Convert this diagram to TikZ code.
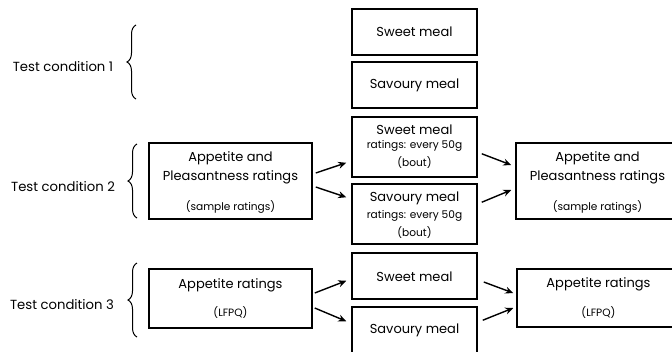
\documentclass[tikz,border=0pt]{standalone}
\usepackage{fontspec}
\setmainfont{Poppins}
\usetikzlibrary{arrows.meta,decorations.pathreplacing}
\tikzset{
  box/.style={draw, line width=1.5pt, inner sep=0pt},
  lbl/.style={inner sep=0pt, font=\fontsize{13}{15}\selectfont},
  sml/.style={inner sep=0pt, font=\fontsize{10.6}{12}\selectfont},
  cond/.style={inner sep=0pt, font=\fontsize{13.2}{15}\selectfont},
  arr/.style={line width=1.4pt, -{Stealth[length=8pt,width=7pt]}},
  brc/.style={line width=1pt, decorate, decoration={brace, amplitude=9pt}},
}
\begin{document}
\begin{tikzpicture}[x=1pt,y=-1pt]
\useasboundingbox (0,0) rectangle (672,351);
\clip (0,0) rectangle (672,351);
% condition labels and braces
\node[cond] (t1) at (63,67) {Test condition 1};
\node[cond] (t2) at (63,187) {Test condition 2};
\node[cond] (t3) at (62,305) {Test condition 3};
\draw[brc] (136,99) -- (136,25);
\draw[brc] (137,218) -- (137,144);
\draw[brc] (137,337) -- (137,263);
% condition 1
\node[box, minimum width=125pt, minimum height=46pt] (s1) at (414.5,32) {};
\node[lbl] (s1t) at (s1.center) {Sweet meal};
\node[box, minimum width=125pt, minimum height=46pt] (v1) at (414.5,85) {};
\node[lbl] (v1t) at (v1.center) {Savoury meal};
% condition 2
\node[box, minimum width=163pt, minimum height=76pt] (a2) at (230.5,181) {};
\node[lbl] (a2a) at (230.5,158) {Appetite and};
\node[lbl] (a2b) at (230.5,177) {Pleasantness ratings};
\node[sml] (a2c) at (230.5,207) {(sample ratings)};
\node[box, minimum width=125pt, minimum height=60pt] (s2) at (414.5,147) {};
\node[lbl] (s2a) at (414.5,130) {Sweet meal};
\node[sml] (s2b) at (414.5,146) {ratings: every 50g};
\node[sml] (s2c) at (414.5,163) {(bout)};
\node[box, minimum width=125pt, minimum height=60pt] (v2) at (414.5,214) {};
\node[lbl] (v2a) at (414.5,198) {Savoury meal};
\node[sml] (v2b) at (414.5,216) {ratings: every 50g};
\node[sml] (v2c) at (414.5,233) {(bout)};
\node[box, minimum width=163pt, minimum height=76pt] (b2) at (597.5,181) {};
\node[lbl] (b2a) at (597.5,158) {Appetite and};
\node[lbl] (b2b) at (597.5,177) {Pleasantness ratings};
\node[sml] (b2c) at (597.5,207) {(sample ratings)};
% condition 3
\node[box, minimum width=163pt, minimum height=59pt] (a3) at (230.5,298.5) {};
\node[lbl] (a3a) at (230.5,285) {Appetite ratings};
\node[sml] (a3b) at (230.5,313) {(LFPQ)};
\node[box, minimum width=125pt, minimum height=46pt] (s3) at (414.5,276) {};
\node[lbl] (s3t) at (414.5,277) {Sweet meal};
\node[box, minimum width=125pt, minimum height=46pt] (v3) at (414.5,330) {};
\node[lbl] (v3t) at (414.5,330) {Savoury meal};
\node[box, minimum width=163pt, minimum height=58pt] (b3) at (598.5,298) {};
\node[lbl] (b3a) at (598.5,284) {Appetite ratings};
\node[sml] (b3b) at (598.5,313) {(LFPQ)};
% arrows condition 2
\draw[arr] ([shift={(3,-8)}]a2.east) -- ([shift={(-5,-15)}]s2.south west);
\draw[arr] ([shift={(3,6)}]a2.east) -- ([shift={(-5,14)}]v2.north west);
\draw[arr] ([shift={(4,-24)}]s2.south east) -- ([shift={(-4,-16)}]b2.west);
\draw[arr] ([shift={(4,19)}]v2.north east) -- ([shift={(-4,9)}]b2.west);
% arrows condition 3
\draw[arr] ([shift={(2,-5.5)}]a3.east) -- ([shift={(-5,-19)}]s3.south west);
\draw[arr] ([shift={(2,9.5)}]a3.east) -- ([shift={(-5,15)}]v3.north west);
\draw[arr] ([shift={(6,6)}]s3.east) -- ([shift={(-3,-5)}]b3.west);
\draw[arr] ([shift={(5,14)}]v3.north east) -- ([shift={(-3,10)}]b3.west);
\end{tikzpicture}
\end{document}
